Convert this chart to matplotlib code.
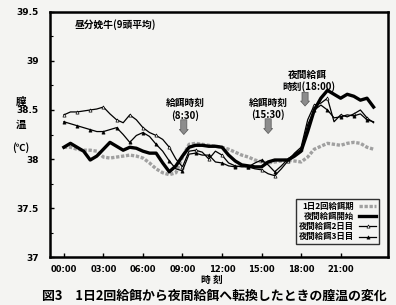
import numpy as np
import matplotlib
matplotlib.use("Agg")
import matplotlib.pyplot as plt
from matplotlib.ticker import MultipleLocator

plt.rcParams['font.family'] = ['Noto Sans CJK JP', 'DejaVu Sans']

# half-hourly samples, 0:00 - 23:30
hours = np.arange(0, 24, 0.5)

twice_daily = [38.12, 38.12, 38.10, 38.09, 38.09, 38.08, 38.02, 38.01, 38.02, 38.03,
               38.04, 38.03, 38.01, 37.96, 37.90, 37.86, 37.84, 37.86, 38.02, 38.15,
               38.16, 38.15, 38.14, 38.13, 38.12, 38.10, 38.07, 38.04, 38.02, 37.99,
               37.97, 37.96, 37.97, 37.98, 37.99, 37.98, 37.97, 38.02, 38.10, 38.13,
               38.16, 38.15, 38.14, 38.16, 38.17, 38.16, 38.12, 38.10]

night_start = [38.12, 38.16, 38.12, 38.08, 37.99, 38.03, 38.10, 38.17, 38.13, 38.09,
               38.12, 38.11, 38.08, 38.06, 38.06, 37.96, 37.87, 37.93, 38.03, 38.12,
               38.14, 38.14, 38.13, 38.13, 38.12, 38.04, 37.98, 37.94, 37.93, 37.92,
               37.92, 37.97, 37.99, 37.99, 37.99, 38.03, 38.08, 38.28, 38.50, 38.62,
               38.70, 38.66, 38.62, 38.66, 38.64, 38.60, 38.62, 38.53]

night_day2 = [38.45, 38.48, 38.48, 38.49, 38.50, 38.51, 38.53, 38.46, 38.40, 38.37,
              38.45, 38.40, 38.32, 38.27, 38.24, 38.20, 38.12, 38.00, 37.92, 38.08,
              38.09, 38.07, 38.00, 38.08, 38.04, 37.96, 37.93, 37.92, 37.92, 37.90,
              37.89, 37.85, 37.83, 37.90, 37.98, 38.06, 38.12, 38.40, 38.55, 38.57,
              38.62, 38.38, 38.45, 38.43, 38.46, 38.50, 38.42, 38.37]

night_day3 = [38.38, 38.36, 38.34, 38.32, 38.30, 38.28, 38.28, 38.30, 38.32, 38.25,
              38.17, 38.24, 38.27, 38.23, 38.15, 38.08, 37.98, 37.90, 37.88, 38.05,
              38.06, 38.04, 38.04, 37.97, 37.96, 37.93, 37.92, 37.93, 37.92, 37.96,
              37.99, 37.94, 37.87, 37.93, 38.00, 38.05, 38.10, 38.35, 38.50, 38.55,
              38.50, 38.42, 38.43, 38.45, 38.44, 38.46, 38.40, 38.38]

labels = ['1日2回給餌期', '夜間給餌開始', '夜間給餌2日目', '夜間給餌3日目']
xtick_hours = [0, 3, 6, 9, 12, 15, 18, 21]
xtick_labels = ['00:00', '03:00', '06:00', '09:00', '12:00', '15:00', '18:00', '21:00']
ytick_vals = [37, 37.5, 38, 38.5, 39, 39.5]
ytick_labels = ['37', '37.5', '38', '38.5', '39', '39.5']

bg = '#f4f4f2'
fig = plt.figure(figsize=(3.96, 3.05), dpi=100, facecolor=bg)
ax = fig.add_axes([0.126, 0.157, 0.854, 0.804], facecolor=bg)

ax.plot(hours, twice_daily, color='#a0a0a0', lw=2.4, ls=(0, (1, 0.5)), label=labels[0], zorder=2)
ax.plot(hours, night_start, color='black', lw=2.4, label=labels[1], zorder=4)
ax.plot(hours, night_day2, color='black', lw=0.9, marker='^', ms=2.3, mfc='white',
        mew=0.5, markevery=2, label=labels[2], zorder=3)
ax.plot(hours, night_day3, color='black', lw=0.9, marker='^', ms=2.3, mfc='black',
        mew=0.5, markevery=2, label=labels[3], zorder=3)

ax.set_xlim(-1.06, 24.6)
ax.set_ylim(37, 39.5)
ax.set_xticks(xtick_hours)
ax.set_xticklabels(xtick_labels, family='DejaVu Sans', fontsize=6, fontweight='bold')
ax.set_yticks(ytick_vals)
ax.set_yticklabels(ytick_labels, family='DejaVu Sans', fontsize=6.5, fontweight='bold')
ax.yaxis.set_minor_locator(MultipleLocator(0.25))
ax.tick_params(direction='in', length=3, width=1, pad=6)
ax.tick_params(axis='y', which='minor', direction='in', length=2, width=0.8)
ax.tick_params(axis='y', pad=8)
for s in ax.spines.values():
    s.set_linewidth(1.8)

ax.text(0.074, 0.947, '昼分娩牛(9頭平均)', transform=ax.transAxes, fontsize=7,
        fontweight='bold', va='center')

# feeding time annotations (gray block arrows)
arrow = dict(arrowstyle='simple,head_width=0.8,head_length=0.45,tail_width=0.55',
             fc='#8c8c8c', ec='#555555', lw=0.5, shrinkA=0, shrinkB=0, mutation_scale=8)
ax.text(9.2, 38.57, '給餌時刻', ha='center', va='center', fontsize=7, fontweight='bold')
ax.text(9.2, 38.44, '(8:30)', ha='center', va='center', fontsize=7, fontweight='bold')
ax.annotate('', xy=(9.1, 38.25), xytext=(9.1, 38.40), arrowprops=arrow)

ax.text(15.5, 38.57, '給餌時刻', ha='center', va='center', fontsize=7, fontweight='bold')
ax.text(15.5, 38.45, '(15:30)', ha='center', va='center', fontsize=7, fontweight='bold')
ax.annotate('', xy=(15.5, 38.26), xytext=(15.5, 38.41), arrowprops=arrow)

ax.text(18.5, 38.86, '夜間給餌', ha='center', va='center', fontsize=7, fontweight='bold')
ax.text(18.6, 38.74, '時刻(18:00)', ha='center', va='center', fontsize=7, fontweight='bold')
ax.annotate('', xy=(18.3, 38.54), xytext=(18.3, 38.68), arrowprops=arrow)

leg = ax.legend(loc='lower right', bbox_to_anchor=(0.985, 0.035), markerfirst=False,
                prop={'size': 6, 'weight': 'bold'}, frameon=True, fancybox=False,
                handlelength=2.0, labelspacing=0.15, borderpad=0.35, handletextpad=0.6)
leg.get_frame().set_edgecolor('black')
leg.get_frame().set_linewidth(1.0)
leg.get_frame().set_facecolor(bg)

# y label, stacked vertically
fig.text(0.052, 0.665, '膣', fontsize=7.5, fontweight='bold', ha='center', va='center')
fig.text(0.052, 0.592, '温', fontsize=7.5, fontweight='bold', ha='center', va='center')
fig.text(0.052, 0.515, '(℃)', fontsize=7, fontweight='bold', ha='center', va='center')

fig.text(0.535, 0.082, '時 刻', fontsize=7, fontweight='bold', ha='center', va='center')
fig.text(0.54, 0.03, '図3　1日2回給餌から夜間給餌へ転換したときの膣温の変化',
         fontsize=9.3, fontweight='bold', ha='center', va='center')

fig.savefig('out.png', dpi=100, facecolor=bg)
